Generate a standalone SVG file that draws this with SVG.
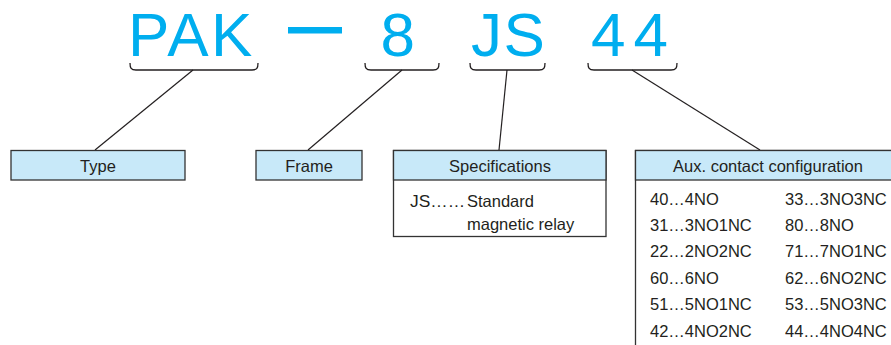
<svg xmlns="http://www.w3.org/2000/svg" width="891" height="345" viewBox="0 0 891 345">
<style>
.big{font-family:"Liberation Sans",Arial,sans-serif;font-size:62px;fill:#00aeef}
.t{font-family:"Liberation Sans",Arial,sans-serif;font-size:16.5px;fill:#231f20}
.c{text-anchor:middle}
.hdr{fill:#c8e9f9;stroke:#333;stroke-width:1.3}
.body{fill:#fff;stroke:#333;stroke-width:1.3}
.brace{fill:none;stroke:#231f20;stroke-width:1.3}
.ln{stroke:#231f20;stroke-width:1.2;fill:none}
</style>
<rect width="891" height="345" fill="#fff"/>
<g id="code">
<text class="big" x="128" y="56" letter-spacing="2.5">PAK</text>
<rect x="288" y="27" width="54" height="6.5" fill="#00aeef"/>
<text class="big" x="380.5" y="56">8</text>
<text class="big" x="471" y="56" letter-spacing="1.5">JS</text>
<text class="big" x="591" y="56" letter-spacing="8">44</text>
</g>
<g id="braces">
<path class="brace" d="M130,63 C130,68 131,70 136,70 H252 C257,70 258,68 258,63"/>
<path class="brace" d="M365,63 C365,68 366,70 371,70 H433 C438,70 439,68 439,63"/>
<path class="brace" d="M470,63 C470,68 471,70 476,70 H539 C544,70 545,68 545,63"/>
<path class="brace" d="M588,63 C588,68 589,70 594,70 H671 C676,70 677,68 677,63"/>
</g>
<g id="connectors">
<line class="ln" x1="193" y1="70" x2="95" y2="150"/>
<line class="ln" x1="402" y1="70" x2="308" y2="150"/>
<line class="ln" x1="507" y1="70" x2="499" y2="150"/>
<line class="ln" x1="632" y1="70" x2="760" y2="150"/>
</g>
<g id="type">
<rect class="hdr" x="11" y="150.5" width="174" height="29.5"/>
<text class="t c" x="98" y="172">Type</text>
</g>
<g id="frame">
<rect class="hdr" x="256" y="150.5" width="106" height="29.5"/>
<text class="t c" x="309" y="172">Frame</text>
</g>
<g id="spec">
<rect class="body" x="393.5" y="150.5" width="212.5" height="86"/>
<rect class="hdr" x="393.5" y="150.5" width="212.5" height="29.5"/>
<text class="t c" x="500" y="171.5">Specifications</text>
<text class="t" x="410" y="207" textLength="55" lengthAdjust="spacingAndGlyphs">JS……</text>
<text class="t" x="467" y="207">Standard</text>
<text class="t" x="467" y="230">magnetic relay</text>
</g>
<g id="aux">
<rect class="body" x="635.5" y="150.5" width="270" height="210"/>
<rect class="hdr" x="635.5" y="150.5" width="270" height="29.5"/>
<text class="t c" x="768" y="171.5">Aux. contact configuration</text>
<text class="t" x="650" y="204.5">40…4NO</text>
<text class="t" x="785" y="204.5">33…3NO3NC</text>
<text class="t" x="650" y="230.9">31…3NO1NC</text>
<text class="t" x="785" y="230.9">80…8NO</text>
<text class="t" x="650" y="257.3">22…2NO2NC</text>
<text class="t" x="785" y="257.3">71…7NO1NC</text>
<text class="t" x="650" y="283.7">60…6NO</text>
<text class="t" x="785" y="283.7">62…6NO2NC</text>
<text class="t" x="650" y="310.1">51…5NO1NC</text>
<text class="t" x="785" y="310.1">53…5NO3NC</text>
<text class="t" x="650" y="336.5">42…4NO2NC</text>
<text class="t" x="785" y="336.5">44…4NO4NC</text>
</g>
</svg>
